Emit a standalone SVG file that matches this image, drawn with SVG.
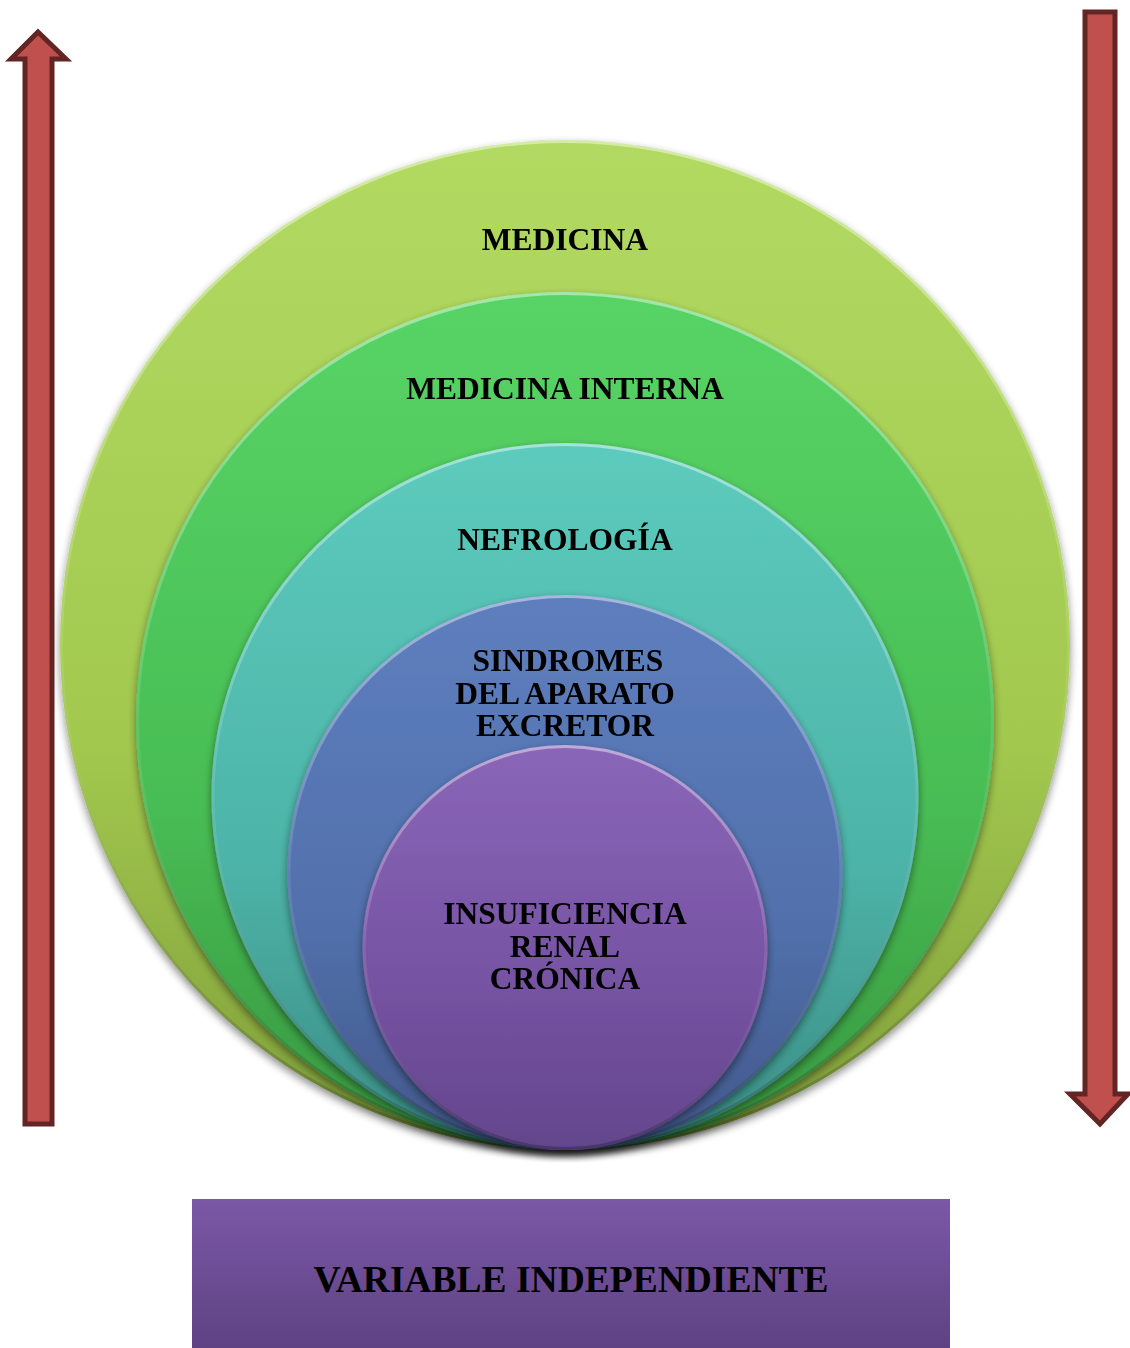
<svg xmlns="http://www.w3.org/2000/svg" width="1130" height="1348" viewBox="0 0 1130 1348">
  <style>
    .lbl { font-family: "Liberation Serif", "Times New Roman", serif; font-weight: bold; font-size: 31.5px; fill: #000; text-anchor: middle; }
    .big { font-size: 37.5px; }
    .arrow { fill: #c0504d; stroke: #632523; stroke-width: 5; stroke-linejoin: miter; }
  </style>
  <defs>
    <linearGradient id="g1" x1="0" y1="0" x2="0" y2="1">
      <stop offset="0" stop-color="#b2da62"/>
      <stop offset="0.6" stop-color="#a2c84e"/>
      <stop offset="1" stop-color="#7f9d3a"/>
    </linearGradient>
    <linearGradient id="g2" x1="0" y1="0" x2="0" y2="1">
      <stop offset="0" stop-color="#58d466"/>
      <stop offset="0.6" stop-color="#48bd54"/>
      <stop offset="1" stop-color="#38963f"/>
    </linearGradient>
    <linearGradient id="g3" x1="0" y1="0" x2="0" y2="1">
      <stop offset="0" stop-color="#5ccbbd"/>
      <stop offset="0.6" stop-color="#4db3a8"/>
      <stop offset="1" stop-color="#3a8c84"/>
    </linearGradient>
    <linearGradient id="g4" x1="0" y1="0" x2="0" y2="1">
      <stop offset="0" stop-color="#5e7ebe"/>
      <stop offset="0.6" stop-color="#5170ab"/>
      <stop offset="1" stop-color="#41578a"/>
    </linearGradient>
    <linearGradient id="g5" x1="0" y1="0" x2="0" y2="1">
      <stop offset="0" stop-color="#8a66b8"/>
      <stop offset="0.6" stop-color="#7652a2"/>
      <stop offset="1" stop-color="#63468c"/>
    </linearGradient>
    <linearGradient id="gbox" x1="0" y1="0" x2="0" y2="1">
      <stop offset="0" stop-color="#7b58a7"/>
      <stop offset="1" stop-color="#5e4283"/>
    </linearGradient>
    <linearGradient id="rim" x1="0" y1="0" x2="0" y2="1">
      <stop offset="0" stop-color="#ffffff" stop-opacity="0.45"/>
      <stop offset="0.5" stop-color="#ffffff" stop-opacity="0.1"/>
      <stop offset="1" stop-color="#000000" stop-opacity="0.25"/>
    </linearGradient>
    <filter id="shadow" x="-10%" y="-10%" width="120%" height="125%">
      <feGaussianBlur in="SourceAlpha" stdDeviation="4"/>
      <feOffset dx="0" dy="4" result="b"/>
      <feComponentTransfer><feFuncA type="linear" slope="0.45"/></feComponentTransfer>
      <feMerge><feMergeNode/><feMergeNode in="SourceGraphic"/></feMerge>
    </filter>
  </defs>

  <!-- direction arrows -->
  <g id="arrow-up">
    <polygon class="arrow" points="38,32 66,59 52,59 52,1124 25,1124 25,59 11,59"/>
  </g>
  <g id="arrow-down">
    <polygon class="arrow" points="1085,12 1115,12 1115,1094 1128,1094 1100,1124 1070,1094 1085,1094"/>
  </g>

  <!-- nested circles, all touching at the bottom -->
  <g id="medicina" filter="url(#shadow)">
    <circle cx="565" cy="645" r="505" fill="url(#g1)"/>
    <circle cx="565" cy="645" r="503.5" fill="none" stroke="url(#rim)" stroke-width="3"/>
    <text class="lbl" x="565" y="250">MEDICINA</text>
  </g>
  <g id="medicina-interna" filter="url(#shadow)">
    <circle cx="565" cy="721" r="429" fill="url(#g2)"/>
    <circle cx="565" cy="721" r="427.5" fill="none" stroke="url(#rim)" stroke-width="3"/>
    <text class="lbl" x="565" y="399">MEDICINA INTERNA</text>
  </g>
  <g id="nefrologia" filter="url(#shadow)">
    <circle cx="565" cy="796.5" r="353.5" fill="url(#g3)"/>
    <circle cx="565" cy="796.5" r="352" fill="none" stroke="url(#rim)" stroke-width="3"/>
    <text class="lbl" x="565" y="550">NEFROLOGÍA</text>
  </g>
  <g id="sindromes" filter="url(#shadow)">
    <circle cx="565" cy="872.5" r="277.5" fill="url(#g4)"/>
    <circle cx="565" cy="872.5" r="276" fill="none" stroke="url(#rim)" stroke-width="3"/>
    <text class="lbl" x="568" y="671">SINDROMES</text>
    <text class="lbl" x="565" y="704">DEL APARATO</text>
    <text class="lbl" x="565" y="736">EXCRETOR</text>
  </g>
  <g id="insuficiencia" filter="url(#shadow)">
    <circle cx="565" cy="947.5" r="202.5" fill="url(#g5)"/>
    <circle cx="565" cy="947.5" r="201" fill="none" stroke="url(#rim)" stroke-width="3"/>
    <text class="lbl" x="565" y="924">INSUFICIENCIA</text>
    <text class="lbl" x="565" y="957">RENAL</text>
    <text class="lbl" x="565" y="989">CRÓNICA</text>
  </g>

  <!-- caption box -->
  <g id="variable">
    <rect x="192" y="1199" width="758" height="149" fill="url(#gbox)"/>
    <text class="lbl big" x="571" y="1292">VARIABLE INDEPENDIENTE</text>
  </g>
</svg>
